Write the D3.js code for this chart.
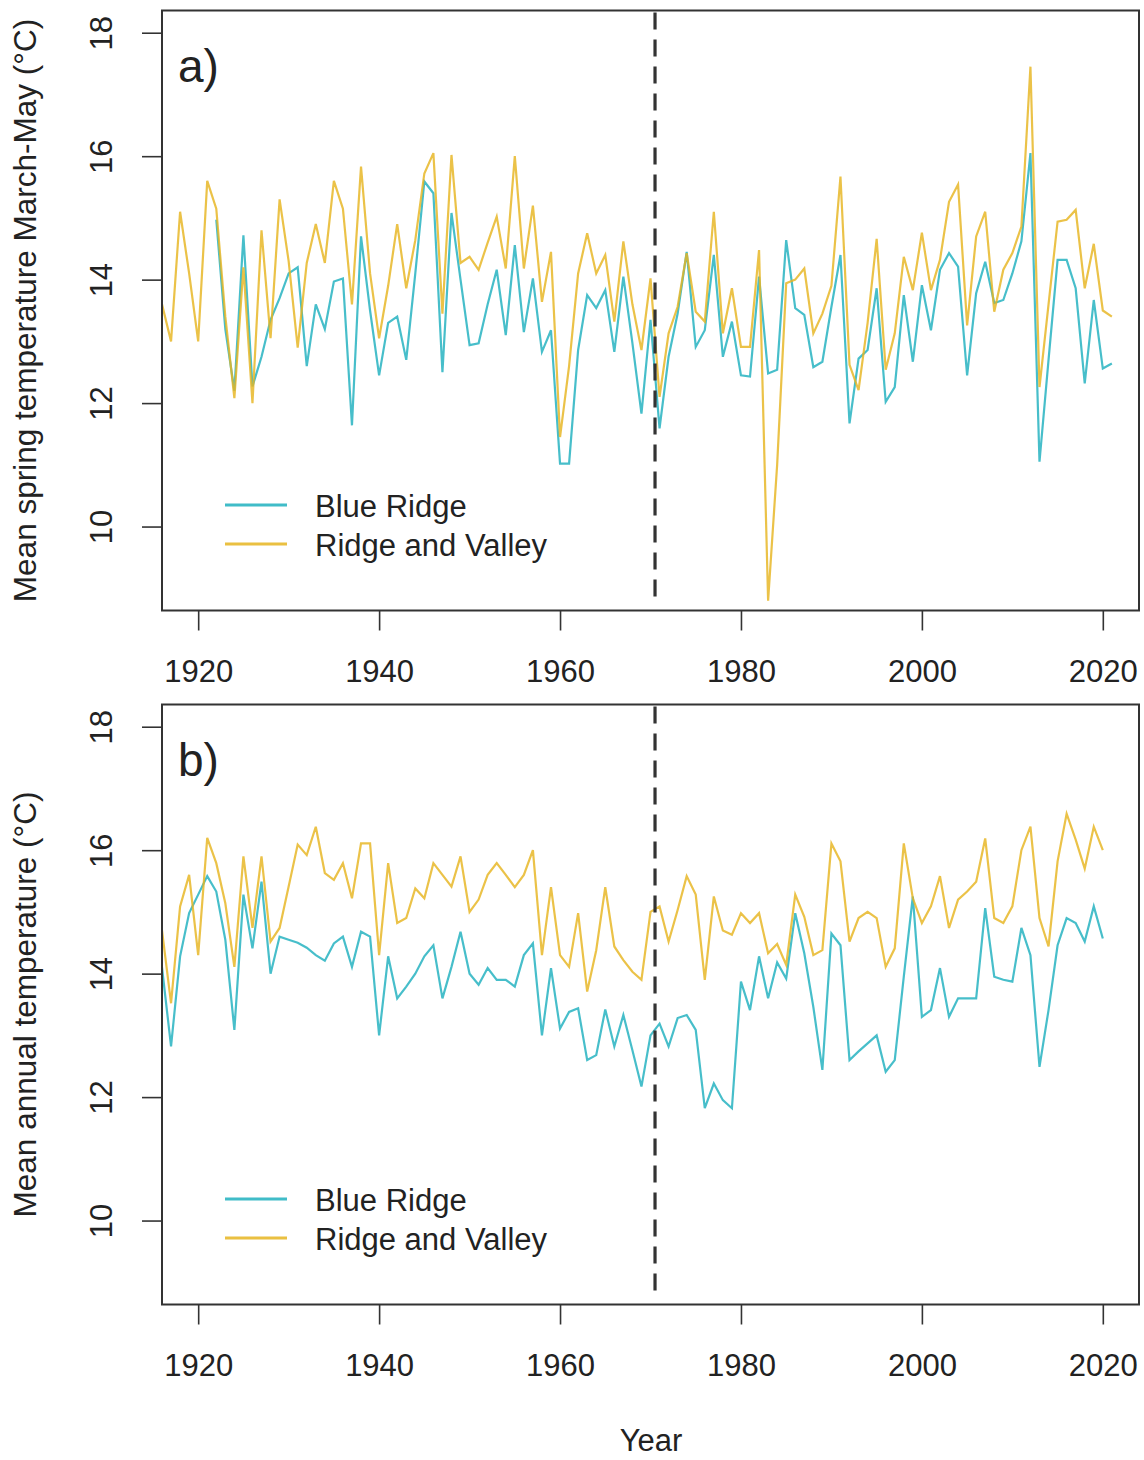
<!DOCTYPE html>
<html>
<head>
<meta charset="utf-8">
<script src="https://cdn.jsdelivr.net/npm/d3@7"></script>
<style>
  html, body { margin: 0; padding: 0; background: #fff; }
  text { font-family: "Liberation Sans", Arial, sans-serif; fill: #222; }
</style>
</head>
<body>
<svg id="chart" width="1144" height="1460"></svg>
<script>
// ---------- data ----------
const firstYear = 1916;
const xTicks = [1920, 1940, 1960, 1980, 2000, 2020];
const yTicks = [10, 12, 14, 16, 18];
const seriesNames = ["Blue Ridge", "Ridge and Valley"];
const seriesColors = ["#1fb0be", "#e6b520"];
const breakYear = 1970.5;

// a) Mean spring temperature (March-May), 1916-2021
const springBlueRidge = [
  null, null, null, null, null, null, 14.97, 13.2, 12.2, 14.72,
  12.27, 12.75, 13.35, 13.7, 14.1, 14.2, 12.6, 13.6, 13.2, 13.97,
  14.02, 11.64, 14.7, 13.5, 12.45, 13.3, 13.4, 12.7, 14.1, 15.59,
  15.4, 12.5, 15.08, 14.0, 12.94, 12.97, 13.6, 14.16, 13.1, 14.56,
  13.15, 14.02, 12.83, 13.18, 11.02, 11.02, 12.86, 13.75, 13.54, 13.83,
  12.83, 14.05, 12.97, 11.83, 13.35, 11.59, 12.75, 13.45, 14.45, 12.91,
  13.18, 14.4, 12.75, 13.32, 12.45, 12.43, 14.05, 12.48, 12.54, 14.64,
  13.54, 13.43, 12.58, 12.67, 13.56, 14.4, 11.67, 12.72, 12.86, 13.86,
  12.02, 12.26, 13.75, 12.67, 13.91, 13.18, 14.16, 14.43, 14.21, 12.45,
  13.78, 14.29, 13.62, 13.67, 14.1, 14.62, 16.05, 11.05, 12.7, 14.32,
  14.32, 13.86, 12.32, 13.67, 12.56, 12.64
];
const springRidgeValley = [
  13.6, 13.0, 15.1, 14.1, 13.0, 15.6, 15.15, 13.4, 12.08, 14.2,
  12.0, 14.8, 13.05, 15.3, 14.3, 12.9, 14.27, 14.9, 14.27, 15.6,
  15.15, 13.6, 15.83, 14.1, 13.05, 13.9, 14.9, 13.86, 14.64, 15.72,
  16.05, 13.45, 16.02, 14.27, 14.37, 14.16, 14.6, 15.02, 14.18, 16.0,
  14.18, 15.2, 13.64, 14.45, 11.45, 12.6, 14.1, 14.75, 14.1, 14.4,
  13.32, 14.62, 13.6, 12.86, 14.02, 12.1, 13.13, 13.56, 14.43, 13.48,
  13.32, 15.1, 13.13, 13.86, 12.91, 12.91, 14.48, 8.8, 11.0, 13.94,
  14.0, 14.18, 13.13, 13.45, 13.9, 15.67, 12.62, 12.21, 13.3, 14.66,
  12.54, 13.13, 14.37, 13.83, 14.76, 13.83, 14.32, 15.26, 15.54, 13.26,
  14.7, 15.1, 13.48, 14.16, 14.43, 14.86, 17.45, 12.26, 13.6, 14.94,
  14.97, 15.13, 13.86, 14.58, 13.5, 13.4
];

// b) Mean annual temperature, 1916-2020
const annualBlueRidge = [
  14.1, 12.82, 14.28, 14.98, 15.28, 15.58, 15.33, 14.55, 13.09, 15.28,
  14.41, 15.49, 14.0, 14.6, 14.55, 14.5, 14.42, 14.3, 14.21, 14.49,
  14.6, 14.11, 14.68, 14.6, 13.0, 14.28, 13.6, 13.79, 14.0, 14.28,
  14.46, 13.6, 14.11, 14.68, 14.0, 13.82, 14.09, 13.9, 13.9, 13.79,
  14.3, 14.49, 13.0, 14.09, 13.11, 13.38, 13.44, 12.6, 12.68, 13.42,
  12.82, 13.33, 12.76, 12.17, 13.0, 13.19, 12.82, 13.28, 13.33, 13.09,
  11.82, 12.22, 11.95, 11.82, 13.87, 13.41, 14.28, 13.6, 14.18, 13.92,
  14.98, 14.33, 13.46, 12.44, 14.65, 14.46, 12.6, 12.74, 12.87, 13.0,
  12.41, 12.6, 13.95, 15.25, 13.3, 13.41, 14.09, 13.3, 13.6, 13.6,
  13.6, 15.06, 13.95, 13.9, 13.87, 14.74, 14.3, 12.49, 13.41, 14.46,
  14.9, 14.82, 14.52, 15.09, 14.57
];
const annualRidgeValley = [
  14.7, 13.52, 15.09, 15.6, 14.3, 16.2, 15.79, 15.14, 14.11, 15.9,
  14.74, 15.9, 14.52, 14.74, 15.41, 16.09, 15.92, 16.38, 15.63, 15.52,
  15.79, 15.22, 16.11, 16.11, 14.3, 15.79, 14.82, 14.9, 15.38, 15.22,
  15.79, 15.6, 15.41, 15.9, 15.0, 15.2, 15.6, 15.79, 15.6, 15.4,
  15.6, 16.0, 14.3, 15.4, 14.3, 14.11, 14.98, 13.71, 14.38, 15.4,
  14.44, 14.22, 14.03, 13.9, 15.0, 15.09, 14.52, 15.03, 15.58, 15.28,
  13.9, 15.25, 14.7, 14.63, 14.98, 14.82, 14.98, 14.33, 14.48, 14.14,
  15.28, 14.92, 14.3, 14.38, 16.11, 15.82, 14.52, 14.9, 15.0, 14.9,
  14.11, 14.41, 16.11, 15.22, 14.82, 15.09, 15.58, 14.74, 15.2, 15.33,
  15.49, 16.19, 14.9, 14.82, 15.09, 16.0, 16.38, 14.9, 14.44, 15.82,
  16.59, 16.17, 15.7, 16.38, 16.0
];

// ---------- layout ----------
const svg = d3.select("#chart");
const left = 162, right = 1139;
const x = d3.scaleLinear().domain([1916, 2024]).range([left, right]);

function panel(opts) {
  const y = d3.scaleLinear().domain([8.64, 18.36]).range([opts.bottom, opts.top]);
  const g = svg.append("g");

  const clipId = "clip" + opts.label.replace(/\W/g, "");
  svg.append("clipPath").attr("id", clipId).append("rect")
    .attr("x", left).attr("y", opts.top).attr("width", right - left).attr("height", opts.bottom - opts.top);

  const line = d3.line()
    .defined(d => d.v != null)
    .x(d => x(d.year)).y(d => y(d.v));

  const series = [opts.blue, opts.yellow];
  series.forEach((vals, i) => {
    const data = vals.map((v, k) => ({ year: firstYear + k, v }));
    g.append("path")
      .datum(data)
      .attr("clip-path", `url(#${clipId})`)
      .attr("fill", "none")
      .attr("stroke", seriesColors[i])
      .attr("stroke-opacity", 0.82)
      .attr("stroke-width", 2.2)
      .attr("stroke-linejoin", "miter")
      .attr("d", line);
  });

  // dashed break line
  g.append("line")
    .attr("x1", x(breakYear)).attr("x2", x(breakYear))
    .attr("y1", opts.top + 2).attr("y2", opts.bottom - 10)
    .attr("stroke", "#333").attr("stroke-width", 3.2)
    .attr("stroke-dasharray", "17,10");

  // box
  g.append("rect")
    .attr("x", left).attr("y", opts.top)
    .attr("width", right - left).attr("height", opts.bottom - opts.top)
    .attr("fill", "none").attr("stroke", "#333").attr("stroke-width", 2);

  // x axis
  const xAxis = d3.axisBottom(x).tickValues(xTicks).tickFormat(d3.format("d"))
    .tickSize(20).tickSizeOuter(0);
  const xa = g.append("g").attr("transform", `translate(0,${opts.bottom})`).call(xAxis);
  xa.select(".domain").remove();
  xa.selectAll(".tick line").attr("stroke", "#333").attr("stroke-width", 1.6);
  xa.selectAll(".tick text").attr("y", 71).attr("dy", 0)
    .style("font-size", "31px").attr("fill", "#222")
    .style("font-family", "'Liberation Sans', Arial, sans-serif");

  // y axis
  const yAxis = d3.axisLeft(y).tickValues(yTicks).tickFormat(d3.format("d"))
    .tickSize(20).tickSizeOuter(0);
  const ya = g.append("g").attr("transform", `translate(${left},0)`).call(yAxis);
  ya.select(".domain").remove();
  ya.selectAll(".tick line").attr("stroke", "#333").attr("stroke-width", 1.6);
  ya.selectAll(".tick text")
    .attr("x", 0).attr("dy", 0)
    .attr("transform", "translate(-50,0) rotate(-90)")
    .attr("text-anchor", "middle")
    .style("font-size", "31px").attr("fill", "#222")
    .style("font-family", "'Liberation Sans', Arial, sans-serif");

  // y title
  g.append("text")
    .attr("transform", `translate(36,${(opts.top + opts.bottom) / 2}) rotate(-90)`)
    .attr("text-anchor", "middle")
    .style("font-size", "31.5px")
    .text(opts.ytitle);

  // panel label
  g.append("text")
    .attr("x", 178).attr("y", opts.top + 71)
    .style("font-size", "46px")
    .text(opts.label);

  // legend
  seriesNames.forEach((name, i) => {
    const ly = opts.legendY + i * 39;
    g.append("line")
      .attr("x1", 225).attr("x2", 287).attr("y1", ly).attr("y2", ly)
      .attr("stroke", seriesColors[i]).attr("stroke-opacity", 0.85).attr("stroke-width", 3);
    g.append("text")
      .attr("x", 315).attr("y", ly + 12)
      .style("font-size", "31px")
      .text(name);
  });
}

panel({
  top: 10.5, bottom: 610.5, label: "a)",
  ytitle: "Mean spring temperature March-May (°C)",
  blue: springBlueRidge, yellow: springRidgeValley,
  legendY: 505
});
panel({
  top: 704.5, bottom: 1304.5, label: "b)",
  ytitle: "Mean annual temperature (°C)",
  blue: annualBlueRidge, yellow: annualRidgeValley,
  legendY: 1199
});

// x title
svg.append("text")
  .attr("x", 651).attr("y", 1451)
  .attr("text-anchor", "middle")
  .style("font-size", "31px")
  .text("Year");
</script>
</body>
</html>
